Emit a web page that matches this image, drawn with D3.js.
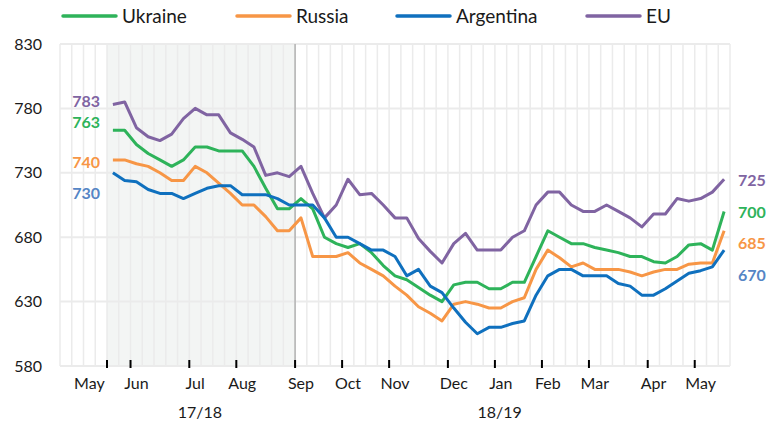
<!DOCTYPE html>
<html>
<head>
<meta charset="utf-8">
<script src="https://cdn.jsdelivr.net/npm/d3@7"></script>
<style>
  body { margin: 0; background: #fff; }
  text { font-family: Lato, "Open Sans", sans-serif; }
</style>
</head>
<body>
<div class="chart"></div>
<script>
var svgWidth = 775;
var svgHeight = 423;

// weekly prices, first point sits in week slot 4 of 57
var firstWeek = 4;
var weekCount = 57;

var ukraine = [763, 763, 752, 745, 740, 735, 740, 750, 750, 747, 747, 747, 735, 718, 702, 702, 710, 702, 680, 675,
  672, 675, 668, 658, 650, 647, 641, 635, 630, 643, 645, 645, 640, 640, 645, 645, 665, 685, 680, 675,
  675, 672, 670, 668, 665, 665, 661, 660, 665, 674, 675, 670, 700];
var russia = [740, 740, 737, 735, 730, 724, 724, 735, 730, 722, 714, 705, 705, 696, 685, 685, 695, 665, 665, 665,
  668, 660, 655, 650, 642, 635, 626, 621, 615, 628, 630, 628, 625, 625, 630, 633, 655, 670, 664, 657,
  660, 655, 655, 655, 653, 650, 653, 655, 655, 659, 660, 660, 685];
var argentina = [730, 724, 723, 717, 714, 714, 710, 714, 718, 720, 720, 713, 713, 713, 710, 705, 705, 705, 695, 680,
  680, 675, 670, 670, 665, 650, 655, 642, 637, 625, 614, 605, 610, 610, 613, 615, 635, 650, 655, 655,
  650, 650, 650, 644, 642, 635, 635, 640, 646, 652, 654, 657, 670];
var eu = [783, 785, 765, 758, 755, 760, 772, 780, 775, 775, 761, 756, 750, 728, 730, 727, 735, 714, 695, 705,
  725, 713, 714, 705, 695, 695, 679, 669, 660, 675, 683, 670, 670, 670, 680, 685, 705, 715, 715, 705,
  700, 700, 705, 700, 695, 688, 698, 698, 710, 708, 710, 715, 725];

var seriesNames = ["Ukraine", "Russia", "Argentina", "EU"];
var seriesColors = ["#2eb35a", "#f79646", "#0f70be", "#8064a2"];
var labelColors = ["#2eb35a", "#f79646", "#5585c5", "#8064a2"];

var yTicks = [580, 630, 680, 730, 780, 830];
var monthLabels = ["May", "Jun", "Jul", "Aug", "Sep", "Oct", "Nov", "Dec", "Jan", "Feb", "Mar", "Apr", "May"];
var monthSlots = [2, 6, 11, 15, 20, 24, 28, 33, 37, 41, 45, 50, 54];
var tickSlots = [4, 6, 11, 15, 20, 24, 28, 33, 37, 41, 45, 50, 54];
var seasonLabels = ["17/18", "18/19"];
var seasonSlots = [11.9, 37.4];
var prevSeason = [4, 20];

var svg = d3.select(".chart")
  .append("svg")
  .attr("width", svgWidth)
  .attr("height", svgHeight);

var x = d3.scaleLinear().domain([0, weekCount]).range([60, 730]);
var y = d3.scaleLinear().domain([580, 830]).range([366, 44]);

// shaded 17/18 season
svg.append("rect")
  .attr("x", x(prevSeason[0]))
  .attr("y", y(830))
  .attr("width", x(prevSeason[1]) - x(prevSeason[0]))
  .attr("height", y(580) - y(830))
  .attr("fill", "#f3f5f4");

// gridlines
svg.append("g").selectAll("line")
  .data(d3.range(weekCount + 1))
  .enter().append("line")
  .attr("x1", d => x(d)).attr("x2", d => x(d))
  .attr("y1", y(830)).attr("y2", y(580))
  .attr("stroke", "#ebebeb")
  .attr("stroke-width", 1.5);

svg.append("g").selectAll("line")
  .data(yTicks)
  .enter().append("line")
  .attr("x1", x(0)).attr("x2", x(weekCount))
  .attr("y1", d => y(d)).attr("y2", d => y(d))
  .attr("stroke", "#ebebeb")
  .attr("stroke-width", 2);

svg.append("line")
  .attr("x1", x(prevSeason[1])).attr("x2", x(prevSeason[1]))
  .attr("y1", y(830)).attr("y2", y(580))
  .attr("stroke", "#b3b3b3")
  .attr("stroke-width", 1.5);

// y axis labels
svg.append("g").selectAll("text")
  .data(yTicks)
  .enter().append("text")
  .attr("x", 42)
  .attr("y", d => y(d))
  .attr("dy", "0.35em")
  .attr("text-anchor", "end")
  .attr("font-size", 16)
  .attr("fill", "#1a1a1a")
  .text(d => d);

// x ticks and labels
svg.append("g").selectAll("line")
  .data(tickSlots)
  .enter().append("line")
  .attr("x1", d => x(d)).attr("x2", d => x(d))
  .attr("y1", y(580) - 6).attr("y2", y(580) + 2)
  .attr("stroke", "#000")
  .attr("stroke-width", 2);

svg.append("g").selectAll("text")
  .data(monthLabels)
  .enter().append("text")
  .attr("x", (d, i) => x(monthSlots[i] + 0.5))
  .attr("y", 389)
  .attr("text-anchor", "middle")
  .attr("font-size", 16)
  .attr("fill", "#1a1a1a")
  .text(d => d);

svg.append("g").selectAll("text")
  .data(seasonLabels)
  .enter().append("text")
  .attr("x", (d, i) => x(seasonSlots[i]))
  .attr("y", 418)
  .attr("text-anchor", "middle")
  .attr("font-size", 16)
  .attr("fill", "#1a1a1a")
  .text(d => d);

// lines
var allSeries = [ukraine, russia, argentina, eu];
var line = d3.line()
  .x((d, i) => x(firstWeek + i + 0.5))
  .y(d => y(d));

svg.append("g").selectAll("path")
  .data([eu, ukraine, russia, argentina])
  .enter().append("path")
  .attr("d", d => line(d))
  .attr("fill", "none")
  .attr("stroke", d => seriesColors[allSeries.indexOf(d)])
  .attr("stroke-width", 3)
  .attr("stroke-linejoin", "round");

// start / end value labels
var startY = [122, 162, 193, 101];
var endY = [212, 243, 275, 180];
allSeries.forEach(function (s, i) {
  svg.append("text")
    .attr("x", 100)
    .attr("y", startY[i])
    .attr("dy", "0.35em")
    .attr("text-anchor", "end")
    .attr("font-size", 16)
    .attr("font-weight", "bold")
    .attr("fill", labelColors[i])
    .text(s[0]);
  svg.append("text")
    .attr("x", 738)
    .attr("y", endY[i])
    .attr("dy", "0.35em")
    .attr("font-size", 16)
    .attr("font-weight", "bold")
    .attr("fill", labelColors[i])
    .text(s[s.length - 1]);
});

// legend
var legendX = [63, 237, 397, 587];
var legend = svg.append("g").selectAll("g")
  .data(seriesNames)
  .enter().append("g")
  .attr("transform", (d, i) => `translate(${legendX[i]}, 16)`);

legend.append("line")
  .attr("x1", 0).attr("x2", 53)
  .attr("stroke", (d, i) => seriesColors[i])
  .attr("stroke-width", 3.5)
  .attr("stroke-linecap", "round");

legend.append("text")
  .attr("x", 59)
  .attr("dy", "0.35em")
  .attr("font-size", 19)
  .attr("fill", "#1a1a1a")
  .text(d => d);
</script>
</body>
</html>
